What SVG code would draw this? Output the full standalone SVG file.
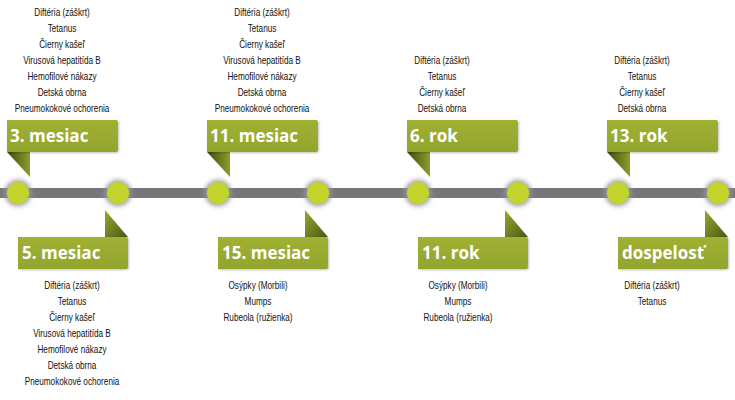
<svg xmlns="http://www.w3.org/2000/svg" width="735" height="400" viewBox="0 0 735 400">
<style>
.lst{font-family:"Liberation Sans",Arial,sans-serif;font-size:10px;fill:#111;text-anchor:middle}
.lbl{font-family:"Open Sans","Liberation Sans",sans-serif;font-weight:700;font-size:17px;fill:#fff}
.dot{fill:#c3d52c}
.halo{fill:#9a9a9a;filter:url(#blur)}
.ban{fill:url(#banG);filter:url(#sh)}
.foldT{fill:url(#foldTG)}
.foldB{fill:url(#foldBG)}
</style>
<defs>
<filter id="blur" x="-50%" y="-50%" width="200%" height="200%"><feGaussianBlur stdDeviation="2.5"/></filter>
<filter id="sh" x="-10%" y="-20%" width="120%" height="150%"><feDropShadow dx="1" dy="1" stdDeviation="1" flood-color="#000" flood-opacity="0.25"/></filter>
<linearGradient id="banG" x1="0" y1="0" x2="0" y2="1"><stop offset="0" stop-color="#9fb032"/><stop offset="1" stop-color="#94a52e"/></linearGradient>
<linearGradient id="foldTG" x1="0" y1="0" x2="1" y2="0"><stop offset="0" stop-color="#3f4712"/><stop offset="1" stop-color="#8e9e2c"/></linearGradient>
<linearGradient id="foldBG" x1="0" y1="0" x2="1" y2="1"><stop offset="0" stop-color="#9aab32"/><stop offset="1" stop-color="#4a5416"/></linearGradient>
</defs>
<rect width="735" height="400" fill="#fff"/>
<g id="connectors">
<rect x="0" y="188" width="735" height="10" fill="#77777b"/>
</g>
<g id="m3">
<circle class="halo" cx="18" cy="193" r="13"/><circle class="dot" cx="18" cy="193" r="11"/>
<polygon class="foldT" points="7,152 30,152 30,177"/>
<path class="ban" d="M7,120 H116 Q118,120 118,122 V150 Q118,152 116,152 H7 Z"/>
<text class="lbl" x="10" y="142">3. mesiac</text>
<g transform="translate(62,0) scale(0.82,1)">
<text class="lst" x="0" y="16">Diftéria (záškrt)</text>
<text class="lst" x="0" y="32">Tetanus</text>
<text class="lst" x="0" y="48">Čierny kašeľ</text>
<text class="lst" x="0" y="64">Virusová hepatitída B</text>
<text class="lst" x="0" y="80">Hemofilové nákazy</text>
<text class="lst" x="0" y="96">Detská obrna</text>
<text class="lst" x="0" y="112">Pneumokokové ochorenia</text>
</g>
</g>
<g id="m5">
<circle class="halo" cx="118" cy="193" r="13"/><circle class="dot" cx="118" cy="193" r="11"/>
<polygon class="foldB" points="105,210 128,237 105,237"/>
<path class="ban" d="M18,237 H126 Q128,237 128,239 V267 Q128,269 126,269 H18 Z"/>
<text class="lbl" x="22" y="259">5. mesiac</text>
<g transform="translate(72,0) scale(0.82,1)">
<text class="lst" x="0" y="289">Diftéria (záškrt)</text>
<text class="lst" x="0" y="305">Tetanus</text>
<text class="lst" x="0" y="321">Čierny kašeľ</text>
<text class="lst" x="0" y="337">Virusová hepatitída B</text>
<text class="lst" x="0" y="353">Hemofilové nákazy</text>
<text class="lst" x="0" y="369">Detská obrna</text>
<text class="lst" x="0" y="385">Pneumokokové ochorenia</text>
</g>
</g>
<g id="m11">
<circle class="halo" cx="218" cy="193" r="13"/><circle class="dot" cx="218" cy="193" r="11"/>
<polygon class="foldT" points="207,152 230,152 230,177"/>
<path class="ban" d="M207,120 H316 Q318,120 318,122 V150 Q318,152 316,152 H207 Z"/>
<text class="lbl" x="210" y="142">11. mesiac</text>
<g transform="translate(262,0) scale(0.82,1)">
<text class="lst" x="0" y="16">Diftéria (záškrt)</text>
<text class="lst" x="0" y="32">Tetanus</text>
<text class="lst" x="0" y="48">Čierny kašeľ</text>
<text class="lst" x="0" y="64">Virusová hepatitída B</text>
<text class="lst" x="0" y="80">Hemofilové nákazy</text>
<text class="lst" x="0" y="96">Detská obrna</text>
<text class="lst" x="0" y="112">Pneumokokové ochorenia</text>
</g>
</g>
<g id="m15">
<circle class="halo" cx="318" cy="193" r="13"/><circle class="dot" cx="318" cy="193" r="11"/>
<polygon class="foldB" points="305,210 328,237 305,237"/>
<path class="ban" d="M218,237 H326 Q328,237 328,239 V267 Q328,269 326,269 H218 Z"/>
<text class="lbl" x="222" y="259">15. mesiac</text>
<g transform="translate(258,0) scale(0.82,1)">
<text class="lst" x="0" y="289">Osýpky (Morbili)</text>
<text class="lst" x="0" y="305">Mumps</text>
<text class="lst" x="0" y="321">Rubeola (ružienka)</text>
</g>
</g>
<g id="r6">
<circle class="halo" cx="418" cy="193" r="13"/><circle class="dot" cx="418" cy="193" r="11"/>
<polygon class="foldT" points="407,152 430,152 430,177"/>
<path class="ban" d="M407,120 H516 Q518,120 518,122 V150 Q518,152 516,152 H407 Z"/>
<text class="lbl" x="410" y="142">6. rok</text>
<g transform="translate(442,0) scale(0.82,1)">
<text class="lst" x="0" y="64">Diftéria (záškrt)</text>
<text class="lst" x="0" y="80">Tetanus</text>
<text class="lst" x="0" y="96">Čierny kašeľ</text>
<text class="lst" x="0" y="112">Detská obrna</text>
</g>
</g>
<g id="r11">
<circle class="halo" cx="518" cy="193" r="13"/><circle class="dot" cx="518" cy="193" r="11"/>
<polygon class="foldB" points="505,210 528,237 505,237"/>
<path class="ban" d="M418,237 H526 Q528,237 528,239 V267 Q528,269 526,269 H418 Z"/>
<text class="lbl" x="422" y="259">11. rok</text>
<g transform="translate(458,0) scale(0.82,1)">
<text class="lst" x="0" y="289">Osýpky (Morbili)</text>
<text class="lst" x="0" y="305">Mumps</text>
<text class="lst" x="0" y="321">Rubeola (ružienka)</text>
</g>
</g>
<g id="r13">
<circle class="halo" cx="618" cy="193" r="13"/><circle class="dot" cx="618" cy="193" r="11"/>
<polygon class="foldT" points="607,152 630,152 630,177"/>
<path class="ban" d="M607,120 H716 Q718,120 718,122 V150 Q718,152 716,152 H607 Z"/>
<text class="lbl" x="610" y="142">13. rok</text>
<g transform="translate(642,0) scale(0.82,1)">
<text class="lst" x="0" y="64">Diftéria (záškrt)</text>
<text class="lst" x="0" y="80">Tetanus</text>
<text class="lst" x="0" y="96">Čierny kašeľ</text>
<text class="lst" x="0" y="112">Detská obrna</text>
</g>
</g>
<g id="adult">
<circle class="halo" cx="718" cy="193" r="13"/><circle class="dot" cx="718" cy="193" r="11"/>
<polygon class="foldB" points="705,210 728,237 705,237"/>
<path class="ban" d="M618,237 H726 Q728,237 728,239 V267 Q728,269 726,269 H618 Z"/>
<text class="lbl" x="622" y="259">dospelosť</text>
<g transform="translate(652,0) scale(0.82,1)">
<text class="lst" x="0" y="289">Diftéria (záškrt)</text>
<text class="lst" x="0" y="305">Tetanus</text>
</g>
</g>
</svg>
